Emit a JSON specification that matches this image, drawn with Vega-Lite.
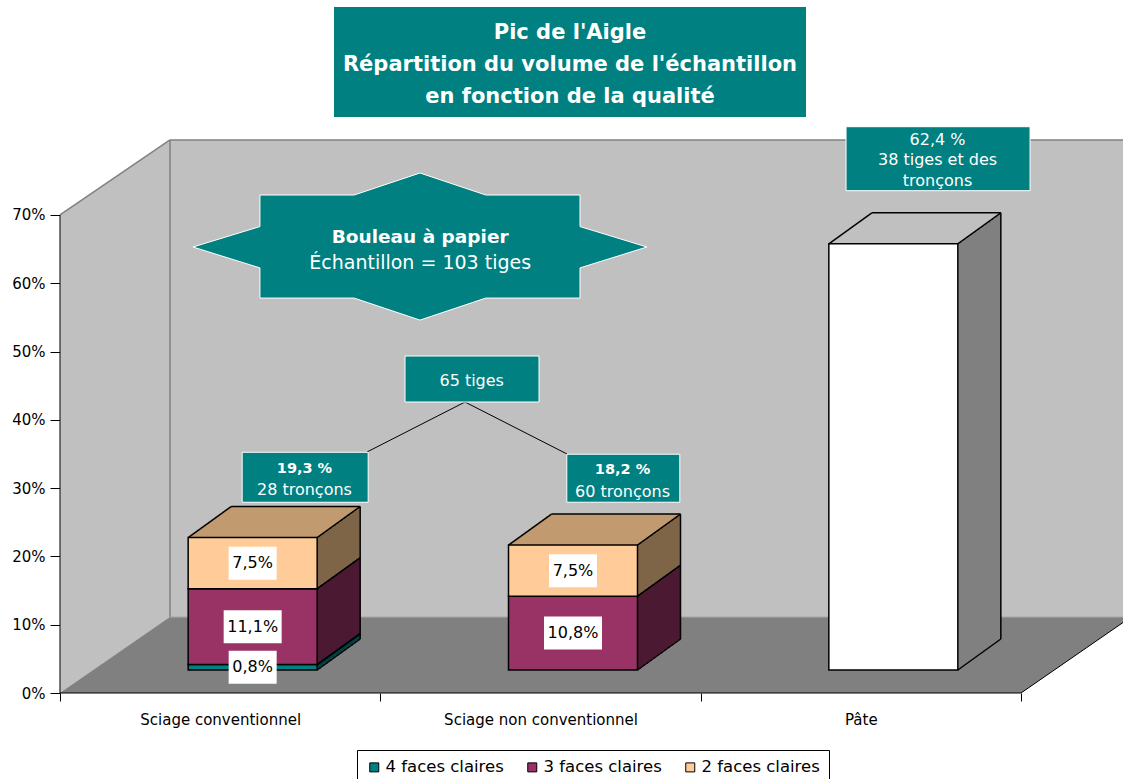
{
  "$schema": "https://vega.github.io/schema/vega-lite/v6.json",
  "width": 1063,
  "height": 693,
  "autosize": "none",
  "padding": {"left": 60, "top": 0, "right": 0, "bottom": 86},
  "background": "white",
  "config": {
    "view": {"stroke": null},
    "font": "DejaVu Sans",
    "locale": {"number": {"decimal": ",", "thousands": " ", "grouping": [3], "currency": ["", " €"]}}
  },
  "datasets": {
    "q": [
      {"cat": "Sciage conventionnel", "qual": "4 faces claires", "v": 0.008},
      {"cat": "Sciage conventionnel", "qual": "3 faces claires", "v": 0.111},
      {"cat": "Sciage conventionnel", "qual": "2 faces claires", "v": 0.075},
      {"cat": "Sciage non conventionnel", "qual": "3 faces claires", "v": 0.108},
      {"cat": "Sciage non conventionnel", "qual": "2 faces claires", "v": 0.075},
      {"cat": "Pâte", "qual": "Pâte", "v": 0.624}
    ]
  },
  "layer": [
    {
      "data": {"values": [{}]},
      "layer": [
        {"mark": {"type": "point", "shape": "M0,-4.78L1.1,-5.53L10.8,-5.53L10.8,-0.76L10.71,-0.76L9.61,0L0,0Z", "size": 40000, "filled": true, "color": "#C0C0C0", "opacity": 1, "strokeWidth": 0, "xOffset": -160.17}, "encoding": {"x": {"datum": "Sciage conventionnel"}, "y": {"datum": 0}}},
        {"mark": {"type": "point", "shape": "M0,0L1.1,-0.76L10.71,-0.76L9.61,0Z", "size": 40000, "filled": true, "color": "#808080", "opacity": 1, "strokeWidth": 0, "xOffset": -160.17}, "encoding": {"x": {"datum": "Sciage conventionnel"}, "y": {"datum": 0}}},
        {"mark": {"type": "rule", "color": "#808080", "strokeWidth": 1.5, "xOffset": -160.17, "x2Offset": -50.17, "y2Offset": -75}, "encoding": {"x": {"datum": "Sciage conventionnel"}, "x2": {"datum": "Sciage conventionnel"}, "y": {"datum": 0.7}, "y2": {"datum": 0.7}}},
        {"mark": {"type": "rule", "color": "#808080", "strokeWidth": 1.5, "xOffset": -50.17, "x2Offset": 279}, "encoding": {"x": {"datum": "Sciage conventionnel"}, "x2": {"datum": "Pâte"}, "y": {"datum": 0.8098}}},
        {"mark": {"type": "rule", "color": "#808080", "strokeWidth": 1.5, "xOffset": -50.17}, "encoding": {"x": {"datum": "Sciage conventionnel"}, "y": {"datum": 0.8098}, "y2": {"datum": 0.1113}}},
        {"mark": {"type": "rule", "color": "#A8A8A8", "strokeWidth": 1, "xOffset": -50.17, "x2Offset": 279}, "encoding": {"x": {"datum": "Sciage conventionnel"}, "x2": {"datum": "Pâte"}, "y": {"datum": 0.1113}}},
        {"mark": {"type": "rule", "color": "black", "strokeWidth": 1, "xOffset": 160.17, "x2Offset": 270.17, "y2Offset": -76}, "encoding": {"x": {"datum": "Pâte"}, "x2": {"datum": "Pâte"}, "y": {"datum": 0}, "y2": {"datum": 0}}},
        {"mark": {"type": "rule", "color": "black", "strokeWidth": 1, "xOffset": -160.17, "x2Offset": 160.17}, "encoding": {"x": {"datum": "Sciage conventionnel"}, "x2": {"datum": "Pâte"}, "y": {"datum": 0}}},
        {"mark": {"type": "rule", "color": "black", "strokeWidth": 1, "xOffset": -160.17}, "encoding": {"x": {"datum": "Sciage conventionnel"}, "y": {"datum": 0}, "y2": {"datum": 0.7}}}
      ]
    },
    {
      "data": {"name": "q"},
      "transform": [
        {"stack": "v", "groupby": ["cat"], "sort": [{"field": "qual", "order": "descending"}], "as": ["y0", "y1"]},
        {"joinaggregate": [{"op": "max", "field": "y1", "as": "top"}], "groupby": ["cat"]}
      ],
      "layer": [
        {"mark": {"type": "bar", "width": 129, "xOffset": 75.5, "yOffset": -54, "y2Offset": -52.71}, "encoding": {"x": {"field": "cat", "type": "nominal"}, "y": {"field": "y1", "type": "quantitative", "title": null}, "y2": {"field": "y0"}, "fill": {"field": "qual", "type": "nominal", "scale": {"domain": ["Pâte", "2 faces claires", "3 faces claires", "4 faces claires"], "range": ["#808080", "#7F6548", "#4C1933", "#004040"]}, "legend": null}}},
        {"mark": {"type": "bar", "width": 129, "xOffset": 71.92, "yOffset": -51.42, "y2Offset": -50.13}, "encoding": {"x": {"field": "cat", "type": "nominal"}, "y": {"field": "y1", "type": "quantitative", "title": null}, "y2": {"field": "y0"}, "fill": {"field": "qual", "type": "nominal", "legend": null}}},
        {"mark": {"type": "bar", "width": 129, "xOffset": 68.33, "yOffset": -48.83, "y2Offset": -47.54}, "encoding": {"x": {"field": "cat", "type": "nominal"}, "y": {"field": "y1", "type": "quantitative", "title": null}, "y2": {"field": "y0"}, "fill": {"field": "qual", "type": "nominal", "legend": null}}},
        {"mark": {"type": "bar", "width": 129, "xOffset": 64.75, "yOffset": -46.25, "y2Offset": -44.96}, "encoding": {"x": {"field": "cat", "type": "nominal"}, "y": {"field": "y1", "type": "quantitative", "title": null}, "y2": {"field": "y0"}, "fill": {"field": "qual", "type": "nominal", "legend": null}}},
        {"mark": {"type": "bar", "width": 129, "xOffset": 61.17, "yOffset": -43.67, "y2Offset": -42.38}, "encoding": {"x": {"field": "cat", "type": "nominal"}, "y": {"field": "y1", "type": "quantitative", "title": null}, "y2": {"field": "y0"}, "fill": {"field": "qual", "type": "nominal", "legend": null}}},
        {"mark": {"type": "bar", "width": 129, "xOffset": 57.58, "yOffset": -41.08, "y2Offset": -39.79}, "encoding": {"x": {"field": "cat", "type": "nominal"}, "y": {"field": "y1", "type": "quantitative", "title": null}, "y2": {"field": "y0"}, "fill": {"field": "qual", "type": "nominal", "legend": null}}},
        {"mark": {"type": "bar", "width": 129, "xOffset": 54, "yOffset": -38.5, "y2Offset": -37.21}, "encoding": {"x": {"field": "cat", "type": "nominal"}, "y": {"field": "y1", "type": "quantitative", "title": null}, "y2": {"field": "y0"}, "fill": {"field": "qual", "type": "nominal", "legend": null}}},
        {"mark": {"type": "bar", "width": 129, "xOffset": 50.42, "yOffset": -35.92, "y2Offset": -34.63}, "encoding": {"x": {"field": "cat", "type": "nominal"}, "y": {"field": "y1", "type": "quantitative", "title": null}, "y2": {"field": "y0"}, "fill": {"field": "qual", "type": "nominal", "legend": null}}},
        {"mark": {"type": "bar", "width": 129, "xOffset": 46.83, "yOffset": -33.33, "y2Offset": -32.04}, "encoding": {"x": {"field": "cat", "type": "nominal"}, "y": {"field": "y1", "type": "quantitative", "title": null}, "y2": {"field": "y0"}, "fill": {"field": "qual", "type": "nominal", "legend": null}}},
        {"mark": {"type": "bar", "width": 129, "xOffset": 43.25, "yOffset": -30.75, "y2Offset": -29.46}, "encoding": {"x": {"field": "cat", "type": "nominal"}, "y": {"field": "y1", "type": "quantitative", "title": null}, "y2": {"field": "y0"}, "fill": {"field": "qual", "type": "nominal", "legend": null}}},
        {"mark": {"type": "bar", "width": 129, "xOffset": 39.67, "yOffset": -28.17, "y2Offset": -26.88}, "encoding": {"x": {"field": "cat", "type": "nominal"}, "y": {"field": "y1", "type": "quantitative", "title": null}, "y2": {"field": "y0"}, "fill": {"field": "qual", "type": "nominal", "legend": null}}},
        {"mark": {"type": "bar", "width": 129, "xOffset": 36.08, "yOffset": -25.58, "y2Offset": -24.29}, "encoding": {"x": {"field": "cat", "type": "nominal"}, "y": {"field": "y1", "type": "quantitative", "title": null}, "y2": {"field": "y0"}, "fill": {"field": "qual", "type": "nominal", "legend": null}}},
        {
          "transform": [{"filter": "datum.y1 == datum.top"}],
          "layer": [
            {"mark": {"type": "rule", "strokeWidth": 3.3, "xOffset": -30.21, "x2Offset": 98.79, "yOffset": -24.29, "y2Offset": -24.29}, "encoding": {"x": {"field": "cat", "type": "nominal"}, "x2": {"field": "cat"}, "y": {"field": "y1", "type": "quantitative", "title": null}, "y2": {"field": "y1"}, "stroke": {"field": "qual", "type": "nominal", "scale": {"domain": ["2 faces claires", "Pâte"], "range": ["#C19A70", "#C0C0C0"]}, "legend": null}}},
            {"mark": {"type": "rule", "strokeWidth": 3.3, "xOffset": -26.63, "x2Offset": 102.37, "yOffset": -26.87, "y2Offset": -26.87}, "encoding": {"x": {"field": "cat", "type": "nominal"}, "x2": {"field": "cat"}, "y": {"field": "y1", "type": "quantitative", "title": null}, "y2": {"field": "y1"}, "stroke": {"field": "qual", "type": "nominal", "legend": null}}},
            {"mark": {"type": "rule", "strokeWidth": 3.3, "xOffset": -23.04, "x2Offset": 105.96, "yOffset": -29.46, "y2Offset": -29.46}, "encoding": {"x": {"field": "cat", "type": "nominal"}, "x2": {"field": "cat"}, "y": {"field": "y1", "type": "quantitative", "title": null}, "y2": {"field": "y1"}, "stroke": {"field": "qual", "type": "nominal", "legend": null}}},
            {"mark": {"type": "rule", "strokeWidth": 3.3, "xOffset": -19.46, "x2Offset": 109.54, "yOffset": -32.04, "y2Offset": -32.04}, "encoding": {"x": {"field": "cat", "type": "nominal"}, "x2": {"field": "cat"}, "y": {"field": "y1", "type": "quantitative", "title": null}, "y2": {"field": "y1"}, "stroke": {"field": "qual", "type": "nominal", "legend": null}}},
            {"mark": {"type": "rule", "strokeWidth": 3.3, "xOffset": -15.88, "x2Offset": 113.12, "yOffset": -34.62, "y2Offset": -34.62}, "encoding": {"x": {"field": "cat", "type": "nominal"}, "x2": {"field": "cat"}, "y": {"field": "y1", "type": "quantitative", "title": null}, "y2": {"field": "y1"}, "stroke": {"field": "qual", "type": "nominal", "legend": null}}},
            {"mark": {"type": "rule", "strokeWidth": 3.3, "xOffset": -12.29, "x2Offset": 116.71, "yOffset": -37.21, "y2Offset": -37.21}, "encoding": {"x": {"field": "cat", "type": "nominal"}, "x2": {"field": "cat"}, "y": {"field": "y1", "type": "quantitative", "title": null}, "y2": {"field": "y1"}, "stroke": {"field": "qual", "type": "nominal", "legend": null}}},
            {"mark": {"type": "rule", "strokeWidth": 3.3, "xOffset": -8.71, "x2Offset": 120.29, "yOffset": -39.79, "y2Offset": -39.79}, "encoding": {"x": {"field": "cat", "type": "nominal"}, "x2": {"field": "cat"}, "y": {"field": "y1", "type": "quantitative", "title": null}, "y2": {"field": "y1"}, "stroke": {"field": "qual", "type": "nominal", "legend": null}}},
            {"mark": {"type": "rule", "strokeWidth": 3.3, "xOffset": -5.13, "x2Offset": 123.87, "yOffset": -42.37, "y2Offset": -42.37}, "encoding": {"x": {"field": "cat", "type": "nominal"}, "x2": {"field": "cat"}, "y": {"field": "y1", "type": "quantitative", "title": null}, "y2": {"field": "y1"}, "stroke": {"field": "qual", "type": "nominal", "legend": null}}},
            {"mark": {"type": "rule", "strokeWidth": 3.3, "xOffset": -1.54, "x2Offset": 127.46, "yOffset": -44.96, "y2Offset": -44.96}, "encoding": {"x": {"field": "cat", "type": "nominal"}, "x2": {"field": "cat"}, "y": {"field": "y1", "type": "quantitative", "title": null}, "y2": {"field": "y1"}, "stroke": {"field": "qual", "type": "nominal", "legend": null}}},
            {"mark": {"type": "rule", "strokeWidth": 3.3, "xOffset": 2.04, "x2Offset": 131.04, "yOffset": -47.54, "y2Offset": -47.54}, "encoding": {"x": {"field": "cat", "type": "nominal"}, "x2": {"field": "cat"}, "y": {"field": "y1", "type": "quantitative", "title": null}, "y2": {"field": "y1"}, "stroke": {"field": "qual", "type": "nominal", "legend": null}}},
            {"mark": {"type": "rule", "strokeWidth": 3.3, "xOffset": 5.62, "x2Offset": 134.62, "yOffset": -50.12, "y2Offset": -50.12}, "encoding": {"x": {"field": "cat", "type": "nominal"}, "x2": {"field": "cat"}, "y": {"field": "y1", "type": "quantitative", "title": null}, "y2": {"field": "y1"}, "stroke": {"field": "qual", "type": "nominal", "legend": null}}},
            {"mark": {"type": "rule", "strokeWidth": 3.3, "xOffset": 9.21, "x2Offset": 138.21, "yOffset": -52.71, "y2Offset": -52.71}, "encoding": {"x": {"field": "cat", "type": "nominal"}, "x2": {"field": "cat"}, "y": {"field": "y1", "type": "quantitative", "title": null}, "y2": {"field": "y1"}, "stroke": {"field": "qual", "type": "nominal", "legend": null}}}
          ]
        },
        {
          "mark": {"type": "bar", "width": 129, "xOffset": 32.5, "yOffset": -23, "y2Offset": -23, "stroke": "black", "strokeWidth": 1.5},
          "encoding": {
            "x": {"field": "cat", "type": "nominal", "title": null,
              "scale": {"type": "band", "domain": ["Sciage conventionnel", "Sciage non conventionnel", "Pâte"], "paddingInner": 0, "paddingOuter": 0.1592, "align": 0},
              "axis": {"title": null, "labelAngle": 0, "labelAlign": "center", "labelLimit": 400, "domain": false, "grid": false, "tickBand": "extent", "tickSize": 8, "tickColor": "black", "labelPadding": 18, "labelFontSize": 15, "labelColor": "black", "labelFont": "DejaVu Sans"}},
            "y": {"field": "y1", "type": "quantitative", "title": null,
              "scale": {"domain": [0, 1.0148], "nice": false, "zero": true},
              "axis": {"title": null, "values": [0, 0.1, 0.2, 0.3, 0.4, 0.5, 0.6, 0.7], "format": ".0%", "grid": false, "domain": false, "tickSize": 10, "tickColor": "black", "labelPadding": 5, "labelFontSize": 15, "labelColor": "black", "labelFont": "DejaVu Sans"}},
            "y2": {"field": "y0"},
            "color": {"field": "qual", "type": "nominal",
              "scale": {"domain": ["4 faces claires", "3 faces claires", "2 faces claires", "Pâte"], "range": ["#008080", "#993366", "#FFCC99", "#FFFFFF"]},
              "legend": {"values": ["4 faces claires", "3 faces claires", "2 faces claires"], "title": null, "orient": "none", "legendX": 297, "legendY": 750, "direction": "horizontal", "symbolType": "square", "symbolSize": 81, "symbolStrokeColor": "black", "symbolStrokeWidth": 1, "labelFontSize": 16.5, "labelFont": "DejaVu Sans", "labelColor": "black", "labelOffset": 3, "columnPadding": 20, "padding": 9, "strokeColor": "black", "fillColor": "white"}}
          }
        },
        {"mark": {"type": "rule", "color": "black", "strokeWidth": 1.5, "xOffset": 97, "x2Offset": 140, "yOffset": -23, "y2Offset": -54}, "encoding": {"x": {"field": "cat", "type": "nominal"}, "x2": {"field": "cat"}, "y": {"field": "y1", "type": "quantitative", "title": null}, "y2": {"field": "y1"}}},
        {"mark": {"type": "rule", "color": "black", "strokeWidth": 1.5, "xOffset": 97, "x2Offset": 140, "yOffset": -23, "y2Offset": -54}, "encoding": {"x": {"field": "cat", "type": "nominal"}, "x2": {"field": "cat"}, "y": {"field": "y0", "type": "quantitative", "title": null}, "y2": {"field": "y0"}}},
        {
          "transform": [{"filter": "datum.y1 == datum.top"}],
          "layer": [
            {"mark": {"type": "rule", "color": "black", "strokeWidth": 1.5, "xOffset": -32, "x2Offset": 11, "yOffset": -23, "y2Offset": -54}, "encoding": {"x": {"field": "cat", "type": "nominal"}, "x2": {"field": "cat"}, "y": {"field": "y1", "type": "quantitative", "title": null}, "y2": {"field": "y1"}}},
            {"mark": {"type": "rule", "color": "black", "strokeWidth": 1.5, "xOffset": 11, "x2Offset": 140, "yOffset": -54, "y2Offset": -54}, "encoding": {"x": {"field": "cat", "type": "nominal"}, "x2": {"field": "cat"}, "y": {"field": "y1", "type": "quantitative", "title": null}, "y2": {"field": "y1"}}},
            {"mark": {"type": "rule", "color": "black", "strokeWidth": 1.5, "xOffset": 140, "x2Offset": 140, "yOffset": -54, "y2Offset": -54}, "encoding": {"x": {"field": "cat", "type": "nominal"}, "x2": {"field": "cat"}, "y": {"field": "y1", "type": "quantitative", "title": null}, "y2": {"datum": 0}}}
          ]
        },
        {
          "transform": [
            {"filter": "datum.qual != 'Pâte'"},
            {"fold": ["y0", "y1"], "as": ["kk", "yy"]},
            {"aggregate": [{"op": "mean", "field": "yy", "as": "ym"}], "groupby": ["cat", "qual", "v"]}
          ],
          "layer": [
            {"transform": [{"filter": "datum.v < 0.1"}], "mark": {"type": "point", "shape": "M-1,-0.6875H1V0.6875H-1Z", "size": 2304, "filled": true, "color": "white", "opacity": 1, "strokeWidth": 0, "xOffset": 32.5, "yOffset": -23}, "encoding": {"x": {"field": "cat", "type": "nominal"}, "y": {"field": "ym", "type": "quantitative", "title": null}}},
            {"transform": [{"filter": "datum.v >= 0.1"}], "mark": {"type": "point", "shape": "M-1,-0.569H1V0.569H-1Z", "size": 3364, "filled": true, "color": "white", "opacity": 1, "strokeWidth": 0, "xOffset": 32.5, "yOffset": -23}, "encoding": {"x": {"field": "cat", "type": "nominal"}, "y": {"field": "ym", "type": "quantitative", "title": null}}},
            {"mark": {"type": "text", "font": "DejaVu Sans", "fontSize": 16, "color": "black", "baseline": "middle", "align": "center", "xOffset": 32.5, "yOffset": -23}, "encoding": {"x": {"field": "cat", "type": "nominal"}, "y": {"field": "ym", "type": "quantitative", "title": null}, "text": {"field": "v", "type": "quantitative", "format": ".1%"}}}
          ]
        }
      ]
    },
    {
      "data": {"values": [{}]},
      "layer": [
        {"mark": {"type": "point", "shape": "M-1,-0.2331H1V0.2331H-1Z", "size": 222784, "filled": true, "color": "#008080", "opacity": 1, "strokeWidth": 0, "xOffset": 29.5}, "encoding": {"x": {"datum": "Sciage non conventionnel"}, "y": {"datum": 0.924}}},
        {"mark": {"type": "text", "font": "DejaVu Sans", "fontWeight": "bold", "fontSize": 21, "color": "white", "align": "center", "baseline": "middle", "lineHeight": 31.7, "xOffset": 29.5}, "encoding": {"x": {"datum": "Sciage non conventionnel"}, "y": {"datum": 0.966}, "text": {"value": ["Pic de l'Aigle", "Répartition du volume de l'échantillon", "en fonction de la qualité"]}}},
        {"mark": {"type": "point", "shape": "M0,-0.326L0.29,-0.229L0.705,-0.229L0.705,-0.09L1,0L0.705,0.092L0.705,0.225L0.29,0.225L0,0.322L-0.29,0.225L-0.705,0.225L-0.705,0.092L-1,0L-0.705,-0.09L-0.705,-0.229L-0.29,-0.229Z", "size": 206116, "filled": true, "color": "#008080", "opacity": 1, "stroke": "white", "strokeWidth": 1, "xOffset": 199.8}, "encoding": {"x": {"datum": "Sciage conventionnel"}, "y": {"datum": 0.6531}}},
        {"mark": {"type": "text", "font": "DejaVu Sans", "fontWeight": "bold", "fontSize": 18.5, "color": "white", "align": "center", "baseline": "middle", "xOffset": 200}, "encoding": {"x": {"datum": "Sciage conventionnel"}, "y": {"datum": 0.6682}, "text": {"value": "Bouleau à papier"}}},
        {"mark": {"type": "text", "font": "DejaVu Sans", "fontSize": 19, "color": "white", "align": "center", "baseline": "middle", "xOffset": 200}, "encoding": {"x": {"datum": "Sciage conventionnel"}, "y": {"datum": 0.6292}, "text": {"value": "Échantillon = 103 tiges"}}},
        {"mark": {"type": "rule", "color": "black", "strokeWidth": 1, "xOffset": -75.5, "x2Offset": 146.8}, "encoding": {"x": {"datum": "Sciage non conventionnel"}, "x2": {"datum": "Sciage conventionnel"}, "y": {"datum": 0.4261}, "y2": {"datum": 0.3529}}},
        {"mark": {"type": "rule", "color": "black", "strokeWidth": 1, "xOffset": -75.5, "x2Offset": 26.5}, "encoding": {"x": {"datum": "Sciage non conventionnel"}, "x2": {"datum": "Sciage non conventionnel"}, "y": {"datum": 0.4261}, "y2": {"datum": 0.35}}},
        {"mark": {"type": "point", "shape": "M-1,-0.3433H1V0.3433H-1Z", "size": 17956, "filled": true, "color": "#008080", "opacity": 1, "stroke": "white", "strokeWidth": 1, "xOffset": -68.5}, "encoding": {"x": {"datum": "Sciage non conventionnel"}, "y": {"datum": 0.4598}}},
        {"mark": {"type": "text", "font": "DejaVu Sans", "fontSize": 16, "color": "white", "align": "center", "baseline": "middle", "xOffset": -68.8}, "encoding": {"x": {"datum": "Sciage non conventionnel"}, "y": {"datum": 0.4569}, "text": {"value": "65 tiges"}}},
        {"mark": {"type": "point", "shape": "M-1,-0.3968H1V0.3968H-1Z", "size": 15876, "filled": true, "color": "#008080", "opacity": 1, "stroke": "white", "strokeWidth": 1, "xOffset": 85}, "encoding": {"x": {"datum": "Sciage conventionnel"}, "y": {"datum": 0.3159}}},
        {"mark": {"type": "text", "font": "DejaVu Sans", "fontWeight": "bold", "fontSize": 14.5, "color": "white", "align": "center", "baseline": "middle", "xOffset": 84.3}, "encoding": {"x": {"datum": "Sciage conventionnel"}, "y": {"datum": 0.328}, "text": {"value": "19,3 %"}}},
        {"mark": {"type": "text", "font": "DejaVu Sans", "fontSize": 16, "color": "white", "align": "center", "baseline": "middle", "xOffset": 84.3}, "encoding": {"x": {"datum": "Sciage conventionnel"}, "y": {"datum": 0.2973}, "text": {"value": "28 tronçons"}}},
        {"mark": {"type": "point", "shape": "M-1,-0.4248H1V0.4248H-1Z", "size": 12769, "filled": true, "color": "#008080", "opacity": 1, "stroke": "white", "strokeWidth": 1, "xOffset": 82.8}, "encoding": {"x": {"datum": "Sciage non conventionnel"}, "y": {"datum": 0.3145}}},
        {"mark": {"type": "text", "font": "DejaVu Sans", "fontWeight": "bold", "fontSize": 14.5, "color": "white", "align": "center", "baseline": "middle", "xOffset": 82}, "encoding": {"x": {"datum": "Sciage non conventionnel"}, "y": {"datum": 0.3265}, "text": {"value": "18,2 %"}}},
        {"mark": {"type": "text", "font": "DejaVu Sans", "fontSize": 16, "color": "white", "align": "center", "baseline": "middle", "xOffset": 82}, "encoding": {"x": {"datum": "Sciage non conventionnel"}, "y": {"datum": 0.2948}, "text": {"value": "60 tronçons"}}},
        {"mark": {"type": "point", "shape": "M-1,-0.3478H1V0.3478H-1Z", "size": 33856, "filled": true, "color": "#008080", "opacity": 1, "stroke": "white", "strokeWidth": 1, "xOffset": 77.2}, "encoding": {"x": {"datum": "Pâte"}, "y": {"datum": 0.7824}}},
        {"mark": {"type": "text", "font": "DejaVu Sans", "fontSize": 16, "color": "white", "align": "center", "baseline": "middle", "lineHeight": 20.4, "xOffset": 76.7}, "encoding": {"x": {"datum": "Pâte"}, "y": {"datum": 0.8098}, "text": {"value": ["62,4 %", "38 tiges et des", "tronçons"]}}}
      ]
    }
  ]
}
